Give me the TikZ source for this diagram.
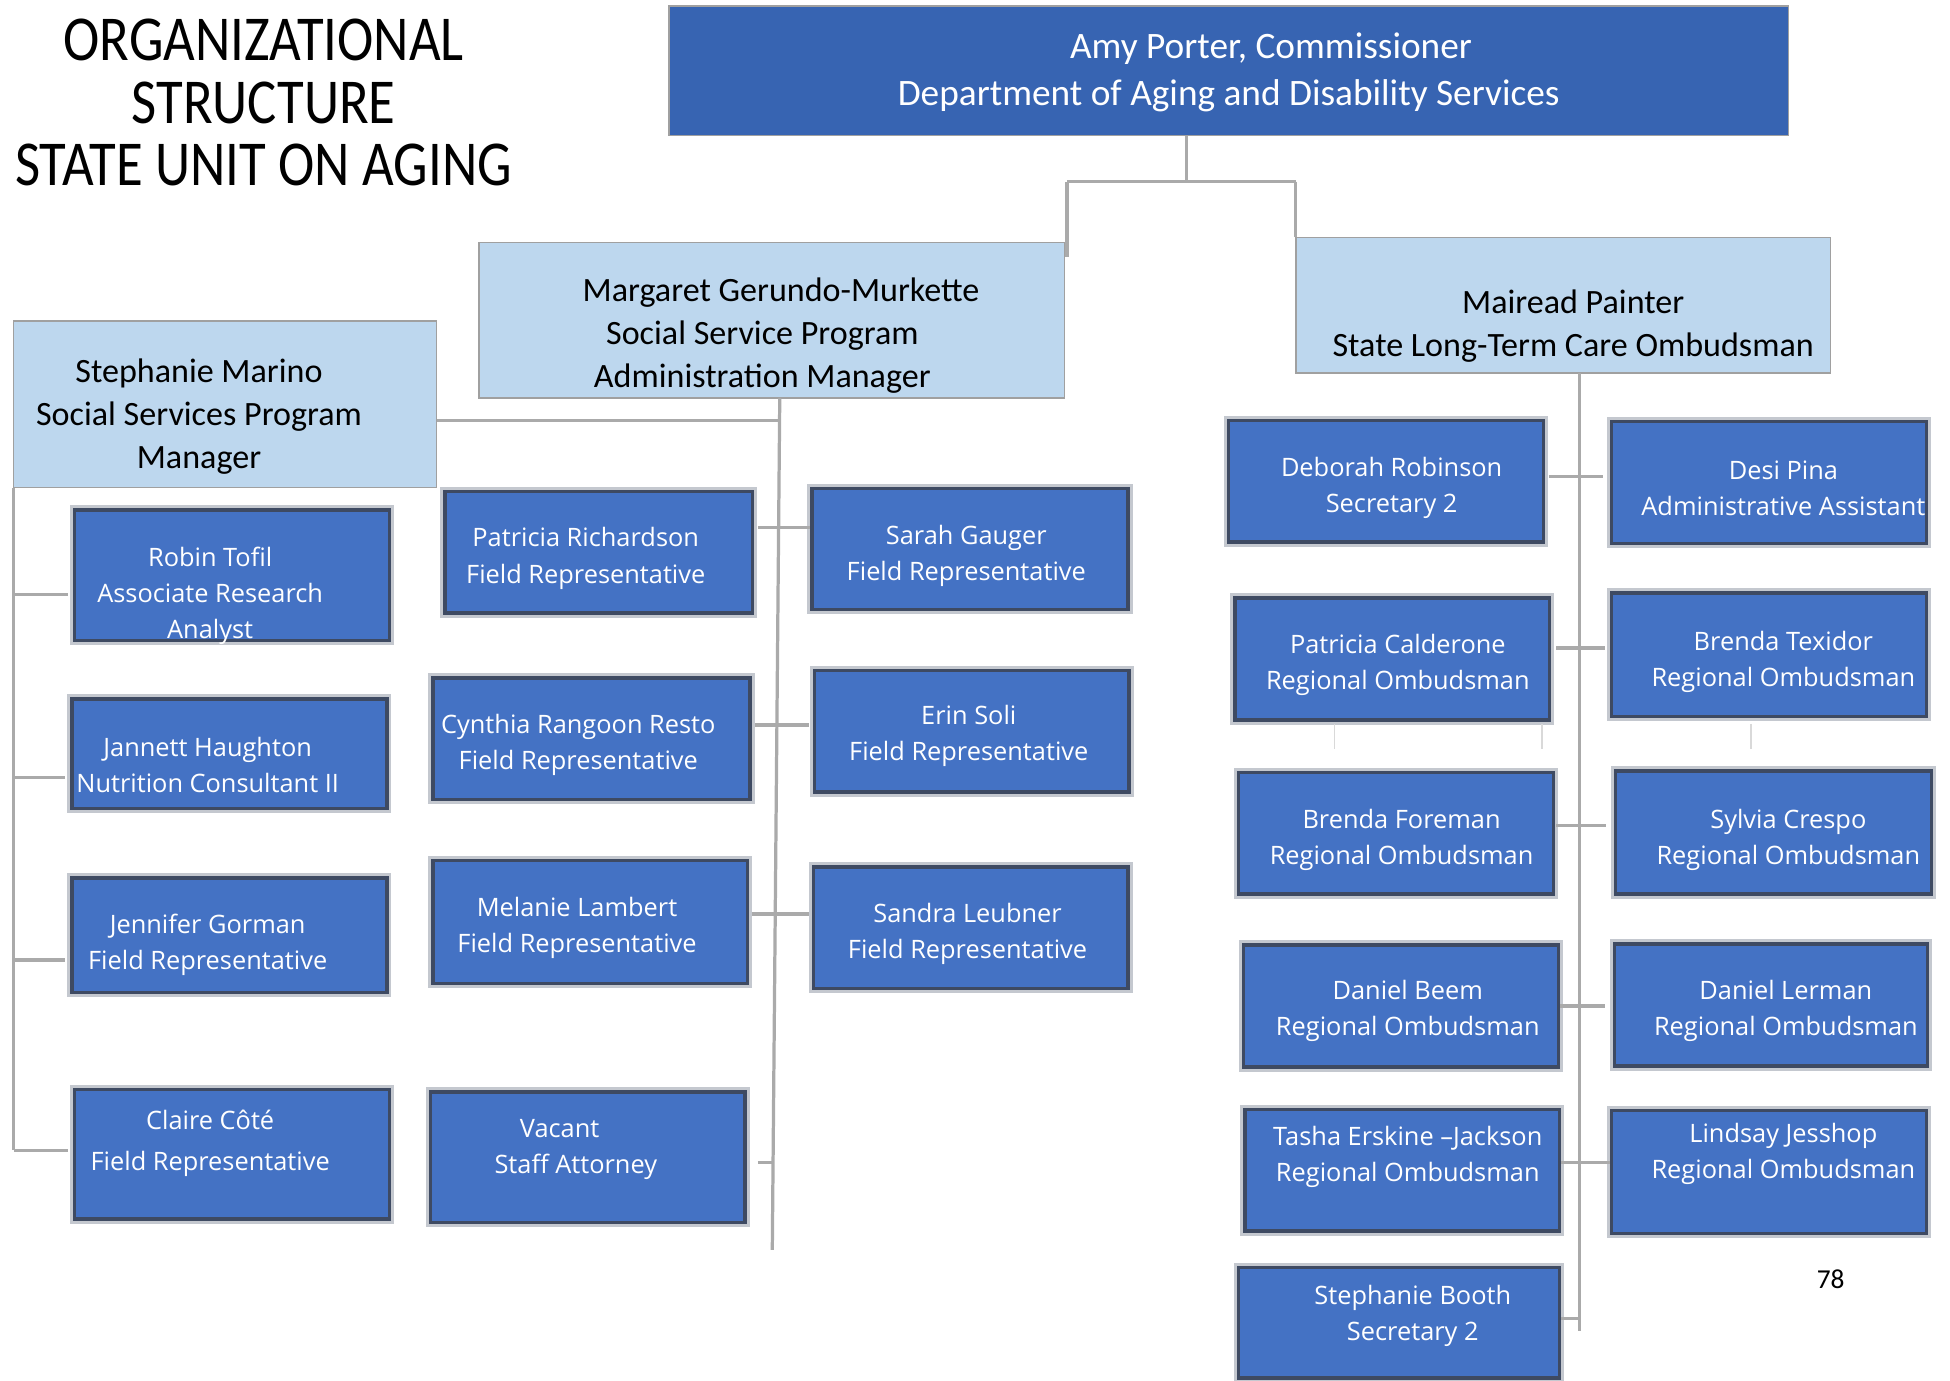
\documentclass[tikz,border=0pt]{standalone}
\usepackage{fontspec}
\setmainfont{Carlito}
\newfontfamily\boxfont{Open Sans}
\usetikzlibrary{fit,calc}
\definecolor{amyblue}{RGB}{55,100,178}
\definecolor{boxblue}{RGB}{68,114,196}
\definecolor{lightblue}{RGB}{189,215,238}
\definecolor{conngray}{RGB}{170,170,170}
\definecolor{edgegray}{RGB}{160,160,160}
\definecolor{shadowcol}{RGB}{62,74,98}
\begin{document}
\begin{tikzpicture}[x=0.5pt,y=-0.5pt,
  conn/.style={draw=conngray,line width=1.3pt},
  faint/.style={draw=conngray!45,line width=0.6pt},
  topbox/.style={draw=edgegray,line width=0.6pt,fill=amyblue,inner sep=0pt},
  mgrbox/.style={draw=edgegray,line width=0.6pt,fill=lightblue,inner sep=0pt},
  staffbox/.style={fill=boxblue,draw=shadowcol,line width=1.4pt,inner sep=0pt,
    preaction={draw=shadowcol,draw opacity=0.3,line width=3.8pt}},
  stafftext/.style={text=white,font=\boxfont\fontsize{10.2}{14.5}\selectfont,align=center,inner sep=0pt,yshift=-1.5pt},
  mgrtext/.style={text=black,font=\fontsize{13.7}{17.2}\selectfont,align=center,inner sep=0pt,yshift=-1.5pt},
]
\useasboundingbox (0,0) rectangle (1568,1110);
\fill[white] (0,0) rectangle (1568,1110);

% ---------- title ----------
\node[inner sep=0pt] (title) at (212,89)
  {\scalebox{1}[1.17]{\fontsize{22}{21.4}\selectfont\begin{tabular}{@{}c@{}}ORGANIZATIONAL\\STRUCTURE\\STATE UNIT ON AGING\end{tabular}}};

% ---------- box shapes (named) ----------
\node[topbox,fit={(538,5) (1438,109)}] (amy) {};
\node[mgrbox,fit={(385,195) (856,320)}] (mg) {};
\node[mgrbox,fit={(1042,191) (1472,300)}] (mp) {};
\node[mgrbox,fit={(11,258) (351,392)}] (sm) {};

% ---------- connectors ----------
\coordinate (j) at (954,146);
\coordinate (jl) at (858,146);
\coordinate (jr) at (1042,146);
\coordinate (jlend) at (858,207);
\draw[conn] (amy.south -| j) -- (j);
\draw[conn] (jl) -- (jr);
\draw[conn] (jl) -- (jlend);
\draw[conn] (jr) -- (jr |- mp.north);

% Margaret trunk
\coordinate (mt) at (627,320);
\coordinate (mb) at (621,1005);
\coordinate (smj) at (627,338);
\draw[conn] (mt) -- (mb);
\draw[conn] (sm.east |- smj) -- (smj);

% Stephanie trunk
\coordinate (lt) at (11,392);
\coordinate (lb) at (11,925);
\draw[conn] (lt) -- (lb);

% Mairead trunk
\coordinate (rt0) at (1270,300);
\coordinate (rb) at (1270,1070);
\draw[conn] (rt0) -- (rb);

% staff boxes
\node[staffbox,fit={(60,410) (313,515)}] (rto) {};
\node[staffbox,fit={(58,562) (311,650)}] (jh) {};
\node[staffbox,fit={(58,706) (311,798)}] (jg) {};
\node[staffbox,fit={(60,876) (313,980)}] (cc) {};

\node[staffbox,fit={(358,395) (605,493)}] (prich) {};
\node[staffbox,fit={(348,545) (603,643)}] (crr) {};
\node[staffbox,fit={(348,692) (601,791)}] (ml) {};
\node[staffbox,fit={(346,878) (599,983)}] (vac) {};

\node[staffbox,fit={(653,393) (907,490)}] (sg) {};
\node[staffbox,fit={(655,539) (908,637)}] (es) {};
\node[staffbox,fit={(654,697) (907,795)}] (sl) {};

\node[staffbox,fit={(988,338) (1241,436)}] (dr) {};
\node[staffbox,fit={(993,481) (1246,579)}] (pc) {};
\node[staffbox,fit={(996,621) (1249,719)}] (bf) {};
\node[staffbox,fit={(1000,760) (1253,858)}] (db) {};
\node[staffbox,fit={(1001,892) (1254,990)}] (te) {};
\node[staffbox,fit={(996,1019) (1254,1108)}] (sb) {};

\node[staffbox,fit={(1296,339) (1549,437)}] (dp) {};
\node[staffbox,fit={(1296,477) (1549,576)}] (bt) {};
\node[staffbox,fit={(1299,620) (1553,719)}] (sc) {};
\node[staffbox,fit={(1298,759) (1550,857)}] (dl) {};
\node[staffbox,fit={(1296,893) (1549,992)}] (lj) {};

% ticks, left group
\foreach \n/\yy in {rto/478, jh/625, jg/772, cc/925}
  \draw[conn] (lt |- 0,\yy) -- ([xshift=-2pt]\n.west |- 0,\yy);
% ticks, middle group
\draw[conn] ([xshift=1.5pt]prich.east |- 0,424) -- (sg.west |- 0,424);
\draw[conn] ([xshift=1.5pt]crr.east |- 0,583) -- ([xshift=-1.5pt]es.west |- 0,583);
\draw[conn] ([xshift=1pt]ml.east |- 0,735) -- ([xshift=-1pt]sl.west |- 0,735);
\draw[conn] ([xshift=4.5pt]vac.east |- 0,935) -- (mb |- 0,935);
% ticks, right group
\draw[conn] ([xshift=1.5pt]dr.east |- 0,383) -- ([xshift=-3pt]dp.west |- 0,383);
\draw[conn] ([xshift=2pt]pc.east |- 0,521) -- ([xshift=-2pt]bt.west |- 0,521);
\draw[conn] ([xshift=0.5pt]bf.east |- 0,664) -- ([xshift=-3pt]sc.west |- 0,664);
\draw[conn] (db.east |- 0,809) -- ([xshift=-3pt]dl.west |- 0,809);
\draw[conn] (te.east |- 0,935) -- (lj.west |- 0,935);
\draw[conn] (sb.east |- 0,1060) -- (rb |- 0,1060);

% faint marks under the second row
\foreach \xx in {1073,1240,1408}
  \draw[faint] (\xx,582) -- (\xx,602);

% ---------- texts ----------
\node[text=white,font=\fontsize{15}{19}\selectfont,align=center,inner sep=0pt,yshift=-1.5pt] (amyT) at (988,55)
  {\hspace*{34pt}Amy Porter, Commissioner\\Department of Aging and Disability Services};
\node[mgrtext] (mgT) at (613,267) {\hspace*{15pt}Margaret Gerundo-Murkette\\Social Service Program\\Administration Manager};
\node[mgrtext] (mpT) at (1265,259) {Mairead Painter\\State Long-Term Care Ombudsman};
\node[mgrtext] (smT) at (160,332) {Stephanie Marino\\Social Services Program\\Manager};

\node[stafftext] (rtoT) at (169,476) {Robin Tofil\\Associate Research\\Analyst};
\node[stafftext] (jhT) at (167,612) {Jannett Haughton\\Nutrition Consultant II};
\node[stafftext] (jgT) at (167,757) {Jennifer Gorman\\Field Representative};
\node[stafftext,font=\boxfont\fontsize{10.2}{16.5}\selectfont] (ccT) at (169,916) {Claire Côté\\Field Representative};

\node[stafftext] (prichT) at (471,446) {Patricia Richardson\\Field Representative};
\node[stafftext] (crrT) at (465,596) {Cynthia Rangoon Resto\\Field Representative};
\node[stafftext] (mlT) at (464,743) {Melanie Lambert\\Field Representative};
\node[stafftext] (vacT) at (463,921) {Vacant\hspace*{13pt}\\Staff Attorney};

\node[stafftext] (sgT) at (777,444) {Sarah Gauger\\Field Representative};
\node[stafftext] (esT) at (779,589) {Erin Soli\\Field Representative};
\node[stafftext] (slT) at (778,748) {Sandra Leubner\\Field Representative};

\node[stafftext] (drT) at (1119,389) {Deborah Robinson\\Secretary 2};
\node[stafftext] (pcT) at (1124,532) {Patricia Calderone\\Regional Ombudsman};
\node[stafftext] (bfT) at (1127,672) {Brenda Foreman\\Regional Ombudsman};
\node[stafftext] (dbT) at (1132,810) {Daniel Beem\\Regional Ombudsman};
\node[stafftext] (teT) at (1132,927) {Tasha Erskine –Jackson\\Regional Ombudsman};
\node[stafftext] (sbT) at (1136,1055) {Stephanie Booth\\Secretary 2};

\node[stafftext] (dpT) at (1434,390) {Desi Pina\\Administrative Assistant};
\node[stafftext] (btT) at (1434,529) {Brenda Texidor\\Regional Ombudsman};
\node[stafftext] (scT) at (1438,672) {Sylvia Crespo\\Regional Ombudsman};
\node[stafftext] (dlT) at (1436,810) {Daniel Lerman\\Regional Ombudsman};
\node[stafftext] (ljT) at (1434,925) {Lindsay Jesshop\\Regional Ombudsman};

\node[font=\fontsize{11}{13}\selectfont,inner sep=0pt] (pg) at (1472,1029) {78};
\end{tikzpicture}
\end{document}
